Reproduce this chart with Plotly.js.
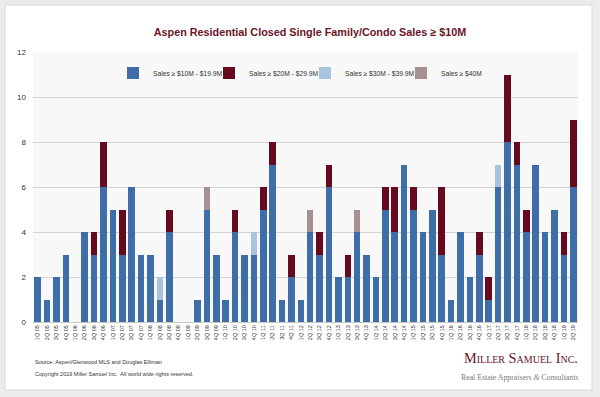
<!DOCTYPE html>
<html>
<head>
<meta charset="utf-8">
<script src="https://cdn.plot.ly/plotly-3.0.1.min.js"></script>
<style>html,body{margin:0;padding:0;background:#ececec;}#chart{width:600px;height:397px;}</style>
</head>
<body>
<div id="chart"></div>
<script>
const quarters = [
  "1Q 05","2Q 05","3Q 05","4Q 05",
  "1Q 06","2Q 06","3Q 06","4Q 06",
  "1Q 07","2Q 07","3Q 07","4Q 07",
  "1Q 08","2Q 08","3Q 08","4Q 08",
  "1Q 09","2Q 09","3Q 09","4Q 09",
  "1Q 10","2Q 10","3Q 10","4Q 10",
  "1Q 11","2Q 11","3Q 11","4Q 11",
  "1Q 12","2Q 12","3Q 12","4Q 12",
  "1Q 13","2Q 13","3Q 13","4Q 13",
  "1Q 14","2Q 14","3Q 14","4Q 14",
  "1Q 15","2Q 15","3Q 15","4Q 15",
  "1Q 16","2Q 16","3Q 16","4Q 16",
  "1Q 17","2Q 17","3Q 17","4Q 17",
  "1Q 18","2Q 18","3Q 18","4Q 18",
  "1Q 19","2Q 19"
];
const sales10to19 = [2,1,2,3, 0,4,3,6, 5,3,6,3, 3,1,4,0, 0,1,5,3, 1,4,3,3, 5,7,1,2, 1,4,3,6, 2,2,4,3, 2,5,4,7, 5,4,5,3, 1,4,2,3, 1,6,8,7, 4,7,4,5, 3,6];
const sales20to29 = [0,0,0,0, 0,0,1,2, 0,2,0,0, 0,0,1,0, 0,0,0,0, 0,1,0,0, 1,1,0,1, 0,0,1,1, 0,1,0,0, 0,1,2,0, 1,0,0,3, 0,0,0,1, 1,0,3,1, 1,0,0,0, 1,3];
const sales30to39 = [0,0,0,0, 0,0,0,0, 0,0,0,0, 0,1,0,0, 0,0,0,0, 0,0,0,1, 0,0,0,0, 0,0,0,0, 0,0,0,0, 0,0,0,0, 0,0,0,0, 0,0,0,0, 0,1,0,0, 0,0,0,0, 0,0];
const sales40plus = [0,0,0,0, 0,0,0,0, 0,0,0,0, 0,0,0,0, 0,0,1,0, 0,0,0,0, 0,0,0,0, 0,1,0,0, 0,0,1,0, 0,0,0,0, 0,0,0,0, 0,0,0,0, 0,0,0,0, 0,0,0,0, 0,0];
const seriesNames = ["Sales ≥ $10M - $19.9M","Sales ≥ $20M - $29.9M","Sales ≥ $30M - $39.9M","Sales ≥ $40M"];
const seriesColors = ["#3d6ea8","#660b1f","#a9c4de","#a69092"];
const yTicks = [0,2,4,6,8,10,12];

// layout geometry (pixels)
const L = 33, R = 22, T = 52, B = 75;
const W = 600, H = 397;
const pw = W - L - R, ph = H - T - B;
const px = v => (v - L) / pw;
const py = v => (H - B - v) / ph;

const seriesValues = [sales10to19, sales20to29, sales30to39, sales40plus];
const legendIds = ["legend","legend2","legend3","legend4"];
const legendLeft = [113, 209, 305, 401];

const traces = seriesValues.map((vals, i) => ({
  type: "bar",
  x: quarters,
  y: vals,
  name: seriesNames[i],
  legend: legendIds[i],
  showlegend: true,
  marker: {color: seriesColors[i], line: {width: 0}},
  hoverinfo: "x+y+name"
}));

const layout = {
  width: W, height: H,
  margin: {l: L, r: R, t: T, b: B, pad: 0},
  showlegend: true,
  paper_bgcolor: "#ececec",
  plot_bgcolor: "rgba(0,0,0,0)",
  barmode: "stack",
  bargap: 0.3,
  font: {family: "Liberation Sans, Arial, sans-serif", color: "#333"},
  title: {
    text: "<b>Aspen Residential Closed Single Family/Condo Sales ≥ $10M</b>",
    font: {size: 10.8, color: "#6b1426", family: "Liberation Sans, Arial, sans-serif"},
    x: 310 / 600, xanchor: "center", xref: "container",
    y: 1 - 32 / 397, yanchor: "middle"
  },
  xaxis: {
    type: "category",
    tickangle: -90,
    tickfont: {size: 5.5, color: "#333"},
    showgrid: false,
    showline: true, linecolor: "#c8c8c8", linewidth: 1,
    ticks: "", fixedrange: true
  },
  yaxis: {
    range: [0, 12],
    tickvals: yTicks,
    tickfont: {size: 8, color: "#333"},
    showgrid: true, gridcolor: "#d4d4d4", gridwidth: 1,
    zeroline: false, showline: false, ticks: "",
    ticklabelstandoff: 6, fixedrange: true
  },
  shapes: [
    {type: "rect", xref: "paper", yref: "paper", layer: "below",
     x0: px(5), x1: px(592), y0: py(390), y1: py(5),
     fillcolor: "#ffffff", line: {color: "#d9d9d9", width: 1}},
    {type: "rect", xref: "paper", yref: "paper", layer: "below",
     x0: 0, x1: 1, y0: 0, y1: 1,
     fillcolor: "#f8f8f9", line: {width: 0}}
  ],
  annotations: [
    {text: "Source: Aspen/Glenwood MLS and Douglas Elliman", xref: "paper", yref: "paper",
     x: px(33), y: py(362), xanchor: "left", yanchor: "middle", showarrow: false,
     font: {size: 5.5, color: "#333"}},
    {text: "Copyright 2019 Miller Samuel Inc.  All world wide rights reserved.", xref: "paper", yref: "paper",
     x: px(33), y: py(374), xanchor: "left", yanchor: "middle", showarrow: false,
     font: {size: 5.5, color: "#333"}},
    {text: "Miller Samuel Inc.", xref: "paper", yref: "paper",
     x: px(580), y: py(358), xanchor: "right", yanchor: "middle", showarrow: false,
     font: {size: 14.3, color: "#6b1426", family: "Liberation Serif, DejaVu Serif, serif", variant: "small-caps"}},
    {text: "Real Estate Appraisers <i>&</i> Consultants", xref: "paper", yref: "paper",
     x: px(580), y: py(377), xanchor: "right", yanchor: "middle", showarrow: false,
     font: {size: 7.8, color: "#7a7a7a", family: "Liberation Serif, DejaVu Serif, serif"}}
  ]
};

legendIds.forEach((id, i) => {
  layout[id] = {
    visible: true,
    orientation: "h",
    x: px(legendLeft[i]), xanchor: "left",
    y: py(73), yanchor: "middle",
    font: {size: 6.7, color: "#333"},
    bgcolor: "rgba(0,0,0,0)",
    itemclick: false, itemdoubleclick: false
  };
});

Plotly.newPlot("chart", traces, layout, {displayModeBar: false, staticPlot: true});
</script>
</body>
</html>
